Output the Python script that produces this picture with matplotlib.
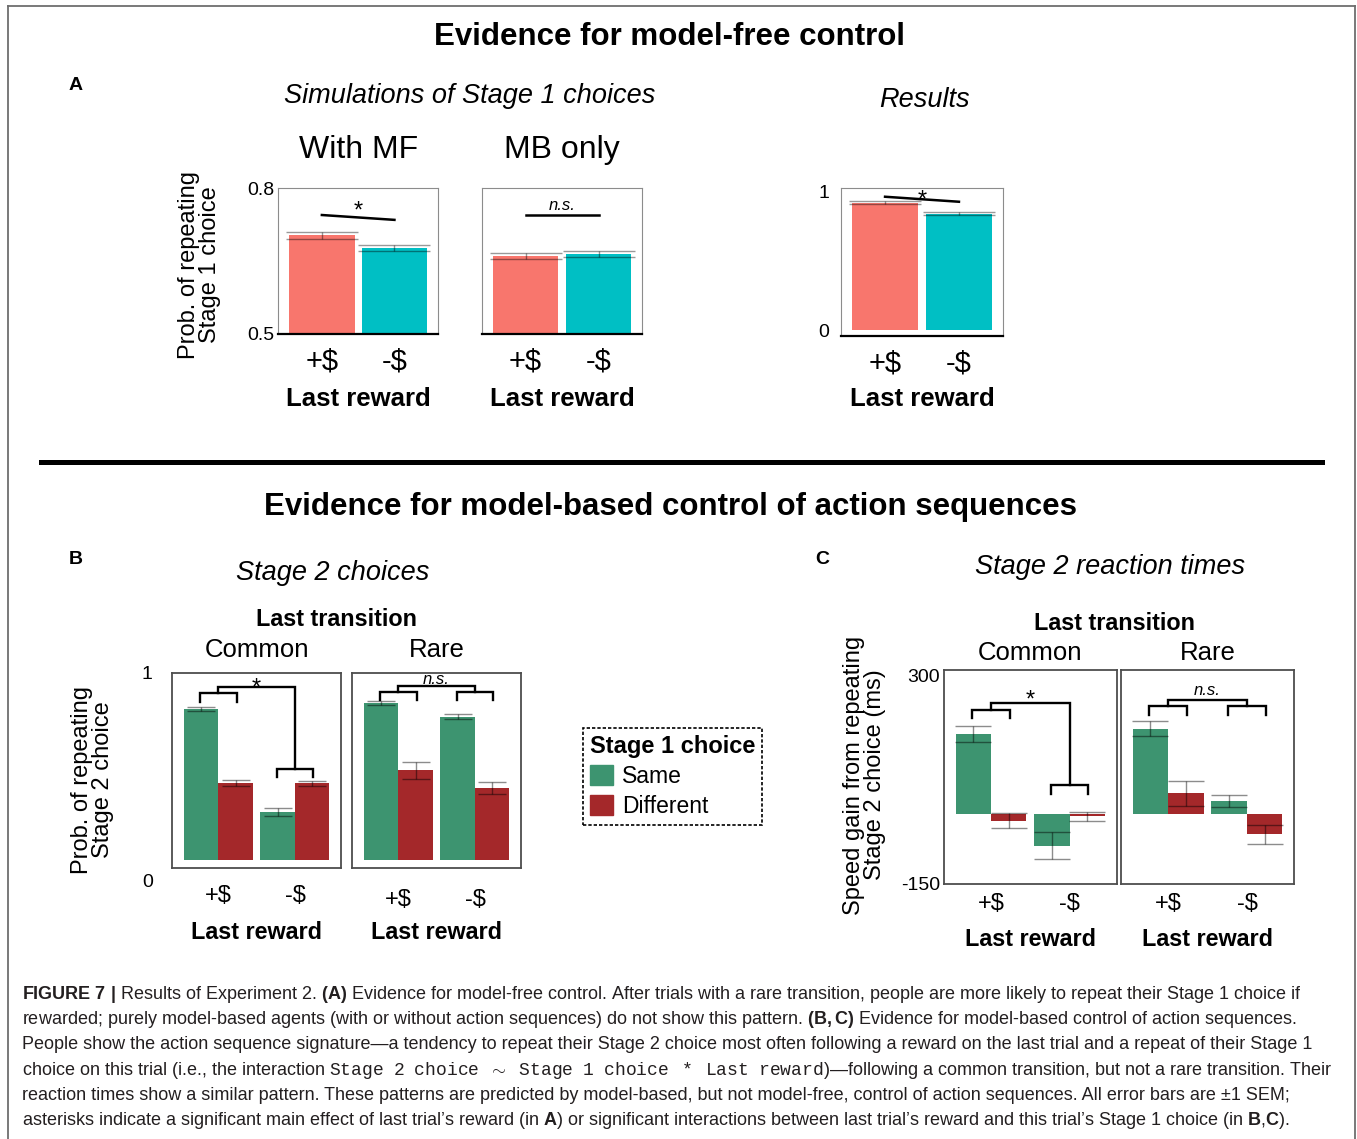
import numpy as np
import matplotlib.pyplot as plt
from matplotlib.patches import Patch
from matplotlib.lines import Line2D
from matplotlib.transforms import ScaledTranslation

plt.rcParams['font.family'] = ['Liberation Sans', 'DejaVu Sans']
plt.rcParams['mathtext.fontset'] = 'custom'
plt.rcParams['mathtext.rm'] = 'Liberation Sans'
plt.rcParams['mathtext.bf'] = 'Liberation Sans:bold'
plt.rcParams['mathtext.it'] = 'Liberation Sans:italic'
plt.rcParams['mathtext.tt'] = 'Liberation Mono'

# ---- data ----
reward_labels = ['+$', '-$']

# A: prob. of repeating Stage 1 choice
sim_mf = [0.703, 0.677]
sim_mf_err = [0.007, 0.007]
sim_mb = [0.660, 0.664]
sim_mb_err = [0.006, 0.006]
results = [0.916, 0.837]
results_err = [0.010, 0.012]

# B: prob. of repeating Stage 2 choice  (per last reward: +$, -$)
b_same_common = [0.805, 0.255]
b_diff_common = [0.410, 0.410]
b_same_common_err = [0.011, 0.021]
b_diff_common_err = [0.017, 0.013]
b_same_rare = [0.837, 0.765]
b_diff_rare = [0.479, 0.383]
b_same_rare_err = [0.012, 0.014]
b_diff_rare_err = [0.044, 0.031]

# C: speed gain from repeating Stage 2 choice (ms)
c_same_common = [173, -68]
c_diff_common = [-14, -5]
c_same_common_err = [17, 29]
c_diff_common_err = [17, 10]
c_same_rare = [185, 28]
c_diff_rare = [45, -44]
c_same_rare_err = [16, 13]
c_diff_rare_err = [27, 21]

SP = r'\ \ '
mono = r'$\mathtt{' + SP.join(['Stage', '2', 'choice', r'\sim', 'Stage', '1', 'choice', '*',
                                 'Last', 'reward']) + '}$'
caption_lines = [
    r"$\mathbf{FIGURE\ 7\ |}$ Results of Experiment 2. $\mathbf{(A)}$ Evidence for model-free control. After trials with a rare transition, people are more likely to repeat their Stage 1 choice if",
    r"rewarded; purely model-based agents (with or without action sequences) do not show this pattern. $\mathbf{(B,C)}$ Evidence for model-based control of action sequences.",
    "People show the action sequence signature\u2014a tendency to repeat their Stage 2 choice most often following a reward on the last trial and a repeat of their Stage 1",
    "choice on this trial (i.e., the interaction " + mono + ")\u2014following a common transition, but not a rare transition. Their",
    "reaction times show a similar pattern. These patterns are predicted by model-based, but not model-free, control of action sequences. All error bars are \u00b11 SEM;",
    r"asterisks indicate a significant main effect of last trial’s reward (in $\mathbf{A}$) or significant interactions between last trial’s reward and this trial’s Stage 1 choice (in $\mathbf{B}$,$\mathbf{C}$).",
]

RED, TEAL = '#f8766d', '#00bfc4'
GREEN, DRED = '#3d9470', '#a4282a'

W, H = 1357, 1139


def fx(x):
    return x / W


def fy(y):
    return 1 - y / H


def box(l, t, r, b):
    return [l / W, 1 - b / H, (r - l) / W, (b - t) / H]


fig = plt.figure(figsize=(W / 100, H / 100), dpi=100)


def panel_a(ax, vals, errs, ylim, yticks, ylabels):
    x = np.arange(1, len(vals) + 1)
    ax.bar(x, vals, width=0.9, color=[RED, TEAL])
    ax.errorbar(x, vals, yerr=errs, fmt='none', ecolor='black', alpha=0.4,
                elinewidth=1, capsize=26, capthick=1)
    ax.set_xlim(0.4, 2.6)
    ax.set_ylim(*ylim)
    ax.set_yticks(yticks)
    ax.set_yticklabels(ylabels, fontsize=14)
    ax.set_xticks(x)
    ax.set_xticklabels(reward_labels, fontsize=21)
    ax.tick_params(length=0)
    ax.tick_params(axis='x', pad=10)
    for s in ['top', 'left', 'right']:
        ax.spines[s].set_color('#8c8c8c')
        ax.spines[s].set_linewidth(0.8)
    ax.spines['bottom'].set_color('black')
    ax.spines['bottom'].set_linewidth(1.6)
    ax.set_xlabel('Last reward', fontsize=18.5, fontweight='bold')


# ---- Panel A ----
ax1 = fig.add_axes(box(278.3, 188.3, 438, 334))
panel_a(ax1, sim_mf, sim_mf_err, (0.5, 0.8), [0.5, 0.8], ['0.5', '0.8'])
ax1.tick_params(axis='y', pad=3)
ax1.plot([1, 2], [0.745, 0.735], color='black', lw=1.8)
ax1.text(1.5, 0.7395, '*', ha='center', va='baseline', fontsize=17)
ax1.set_title('With MF', fontsize=23, pad=22)
ax1.set_ylabel('Prob. of repeating\nStage 1 choice', fontsize=17, linespacing=0.95)
ax1.yaxis.set_label_coords(-0.359, 0.474)
ax1.xaxis.set_label_coords(0.5, -0.364)

ax2 = fig.add_axes(box(481.7, 188.3, 642.3, 334))
panel_a(ax2, sim_mb, sim_mb_err, (0.5, 0.8), [], [])
ax2.plot([1, 2], [0.744, 0.744], color='black', lw=1.8)
ax2.text(1.5, 0.755, 'n.s.', ha='center', va='baseline', fontsize=12, style='italic')
ax2.set_title('MB only', fontsize=23, pad=22)
ax2.xaxis.set_label_coords(0.5, -0.364)

ax3 = fig.add_axes(box(840.7, 187.7, 1003.3, 335.7))
panel_a(ax3, results, results_err, (-0.04, 1.024), [0, 1], ['0', '1'])
ax3.tick_params(axis='y', pad=8)
ax3.plot([1, 2], [0.959, 0.923], color='black', lw=1.8)
ax3.text(1.5, 0.892, '*', ha='center', va='baseline', fontsize=17)
ax3.xaxis.set_label_coords(0.5, -0.347)

fig.text(fx(669), fy(37), 'Evidence for model-free control', ha='center', va='center',
         fontsize=22.5, fontweight='bold')
fig.text(fx(76), fy(85), 'A', ha='center', va='center', fontsize=14, fontweight='bold')
fig.text(fx(470), fy(96), 'Simulations of Stage 1 choices', ha='center', va='center',
         fontsize=19.5, style='italic')
fig.text(fx(924), fy(100), 'Results', ha='center', va='center', fontsize=19.5, style='italic')

# separator
fig.add_artist(Line2D([fx(41), fx(1322)], [fy(462), fy(462)], color='black', lw=3.6))


# ---- Panels B and C ----
def bracket(ax, x0, x1, y, leg):
    ax.plot([x0, x0, x1, x1], [y - leg, y, y, y - leg], color='black', lw=1.7,
            solid_joinstyle='miter')


def panel_bc(ax, same, diff, same_err, diff_err, ylim, capsize, fs_tick):
    g = np.arange(1, len(same) + 1)
    ax.bar(g - 0.225, same, width=0.45, color=GREEN)
    ax.bar(g + 0.225, diff, width=0.45, color=DRED)
    ax.errorbar(g - 0.225, same, yerr=same_err, fmt='none', ecolor='black', alpha=0.45,
                elinewidth=1, capsize=capsize, capthick=1)
    ax.errorbar(g + 0.225, diff, yerr=diff_err, fmt='none', ecolor='black', alpha=0.45,
                elinewidth=1, capsize=capsize, capthick=1)
    ax.set_xlim(0.4, 2.6)
    ax.set_ylim(*ylim)
    ax.set_xticks(g)
    ax.set_xticklabels(reward_labels, fontsize=fs_tick)
    ax.tick_params(length=0)
    for s in ax.spines.values():
        s.set_color('#4d4d4d')
        s.set_linewidth(1.3)
    ax.set_xlabel('Last reward', fontsize=16.8, fontweight='bold')
    return g


# B
bax1 = fig.add_axes(box(172.3, 672.7, 341, 868.3))
panel_bc(bax1, b_same_common, b_diff_common, b_same_common_err, b_diff_common_err,
         (-0.044, 1.0), 10, 17)
bax1.set_yticks([0, 1])
bax1.set_yticklabels(['0', '1'], fontsize=14)
bax1.tick_params(axis='y', pad=14)
bax1.tick_params(axis='x', pad=12)
bracket(bax1, 1 - 0.24, 1 + 0.24, 0.89, 0.045)
bracket(bax1, 2 - 0.24, 2 + 0.24, 0.486, 0.041)
bax1.plot([1, 1, 2, 2], [0.89, 0.925, 0.925, 0.486], color='black', lw=1.7,
          solid_joinstyle='miter')
bax1.text(1.5, 0.884, '*', ha='center', va='baseline', fontsize=17)
bax1.set_title('Common', fontsize=18.5, pad=11)
bax1.set_ylabel('Prob. of repeating\nStage 2 choice', fontsize=17, linespacing=0.95)
bax1.yaxis.set_label_coords(-0.346, 0.451)
bax1.xaxis.set_label_coords(0.5, -0.269)
# the "0" label sits below the panel in the original
zero_lab = bax1.yaxis.get_major_ticks()[0].label1
zero_lab.set_transform(zero_lab.get_transform() +
                       ScaledTranslation(0, -0.2, fig.dpi_scale_trans))

bax2 = fig.add_axes(box(352.3, 672.7, 521, 868.3))
panel_bc(bax2, b_same_rare, b_diff_rare, b_same_rare_err, b_diff_rare_err,
         (-0.044, 1.0), 10, 17)
bax2.set_yticks([])
bax2.tick_params(axis='x', pad=15)
bracket(bax2, 1 - 0.24, 1 + 0.24, 0.899, 0.045)
bracket(bax2, 2 - 0.24, 2 + 0.24, 0.899, 0.045)
bax2.plot([1, 1, 2, 2], [0.899, 0.929, 0.929, 0.899], color='black', lw=1.7,
          solid_joinstyle='miter')
bax2.text(1.5, 0.938, 'n.s.', ha='center', va='baseline', fontsize=12, style='italic')
bax2.set_title('Rare', fontsize=18.5, pad=11)
bax2.xaxis.set_label_coords(0.5, -0.269)

# C
C_YLIM = (-152, 312)
cax1 = fig.add_axes(box(944, 670, 1116.7, 884.3))
panel_bc(cax1, c_same_common, c_diff_common, c_same_common_err, c_diff_common_err,
         C_YLIM, 13, 17)
cax1.set_yticks([-150, 300])
cax1.set_yticklabels(['-150', '300'], fontsize=14)
cax1.tick_params(axis='y', pad=3)
cax1.tick_params(axis='x', pad=6)
bracket(cax1, 1 - 0.24, 1 + 0.24, 226, 18)
bracket(cax1, 2 - 0.24, 2 + 0.24, 62, 18)
cax1.plot([1, 1, 2, 2], [226, 240, 240, 62], color='black', lw=1.7, solid_joinstyle='miter')
cax1.text(1.5, 233, '*', ha='center', va='baseline', fontsize=17)
cax1.set_title('Common', fontsize=18.5, pad=7)
cax1.set_ylabel('Speed gain from repeating\nStage 2 choice (ms)', fontsize=17, linespacing=0.95)
cax1.yaxis.set_label_coords(-0.336, 0.51)
cax1.xaxis.set_label_coords(0.5, -0.205)

cax2 = fig.add_axes(box(1120.7, 670, 1294.3, 884.3))
panel_bc(cax2, c_same_rare, c_diff_rare, c_same_rare_err, c_diff_rare_err,
         C_YLIM, 13, 17)
cax2.set_yticks([])
cax2.tick_params(axis='x', pad=6)
bracket(cax2, 1 - 0.24, 1 + 0.24, 235, 20)
bracket(cax2, 2 - 0.24, 2 + 0.24, 235, 20)
cax2.plot([1, 1, 2, 2], [235, 246, 246, 235], color='black', lw=1.7, solid_joinstyle='miter')
cax2.text(1.5, 258, 'n.s.', ha='center', va='baseline', fontsize=12, style='italic')
cax2.set_title('Rare', fontsize=18.5, pad=7)
cax2.xaxis.set_label_coords(0.5, -0.205)

fig.text(fx(670), fy(507), 'Evidence for model-based control of action sequences',
         ha='center', va='center', fontsize=22.5, fontweight='bold')
fig.text(fx(76), fy(560), 'B', ha='center', va='center', fontsize=14, fontweight='bold')
fig.text(fx(822), fy(560), 'C', ha='center', va='center', fontsize=14, fontweight='bold')
fig.text(fx(333), fy(573), 'Stage 2 choices', ha='center', va='center', fontsize=19.5,
         style='italic')
fig.text(fx(1110), fy(567), 'Stage 2 reaction times', ha='center', va='center',
         fontsize=19.5, style='italic')
fig.text(fx(336), fy(620), 'Last transition', ha='center', va='center', fontsize=16.8,
         fontweight='bold')
fig.text(fx(1114), fy(624), 'Last transition', ha='center', va='center', fontsize=16.8,
         fontweight='bold')

# legend
leg = fig.legend(handles=[Patch(color=GREEN, label='Same'), Patch(color=DRED, label='Different')],
                 title='Stage 1 choice', loc='upper left',
                 bbox_to_anchor=(fx(583), fy(728)), borderaxespad=0, fontsize=16.5,
                 title_fontproperties={'weight': 'bold', 'size': 17},
                 frameon=True, fancybox=False, edgecolor='black', framealpha=1,
                 handlelength=1.0, handleheight=1.0, alignment='left',
                 borderpad=0.3, labelspacing=0.3, handletextpad=0.4)
leg.get_frame().set_linestyle((0, (2, 1.2)))
leg.get_frame().set_linewidth(1.2)

# caption
for i, line in enumerate(caption_lines):
    fig.text(fx(22), fy(999 + 25.2 * i), line, ha='left', va='baseline', fontsize=13.0,
             color='#231f20')

# frame around figure
frame_kw = dict(color='#6e6e6e', lw=1.3)
fig.add_artist(Line2D([fx(8), fx(8)], [fy(6), 0], **frame_kw))
fig.add_artist(Line2D([fx(8), fx(1355)], [fy(6), fy(6)], **frame_kw))
fig.add_artist(Line2D([fx(1355), fx(1355)], [fy(6), 0], **frame_kw))

fig.savefig('out.png', dpi=100)
